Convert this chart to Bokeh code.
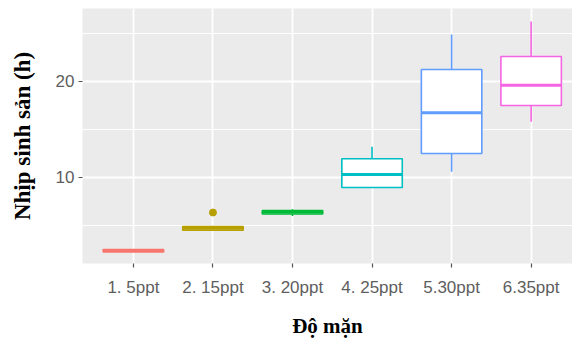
from bokeh.plotting import figure
from bokeh.models import Range1d, FixedTicker
from bokeh.embed import file_html
from bokeh.resources import INLINE

groups = ["1. 5ppt", "2. 15ppt", "3. 20ppt", "4. 25ppt", "5.30ppt", "6.35ppt"]
colors = ["#F8766D", "#B79F00", "#00BA38", "#00BFC4", "#619CFF", "#F564E3"]
lower = [2.25, 4.5, 6.0, 8.95, 10.6, 15.8]
q1 = [2.25, 4.5, 6.2, 8.95, 12.5, 17.5]
median = [2.4, 4.7, 6.4, 10.3, 16.75, 19.6]
q3 = [2.5, 4.9, 6.55, 11.95, 21.25, 22.6]
upper = [2.5, 4.9, 6.7, 13.2, 24.9, 26.25]
outlier_group = [2]
outlier_value = [6.35]

x = list(range(1, len(groups) + 1))
half = 0.38

p = figure(width=572, height=342, output_backend="svg", toolbar_location=None,
           x_range=Range1d(0.36, 6.52), y_range=Range1d(1.04, 27.6),
           min_border_top=8, min_border_right=0, min_border_left=82, min_border_bottom=79)
p.background_fill_color = "#EBEBEB"
p.border_fill_color = "white"
p.outline_line_color = None

# grids
p.xgrid.ticker = FixedTicker(ticks=x)
p.ygrid.ticker = FixedTicker(ticks=[10, 20], minor_ticks=[5, 15, 25])
for g in (p.xgrid, p.ygrid):
    g.grid_line_color = "white"
    g.grid_line_width = 1.8
p.ygrid.minor_grid_line_color = "white"
p.ygrid.minor_grid_line_width = 1.0

# axes
p.xaxis.ticker = FixedTicker(ticks=x)
p.xaxis.major_label_overrides = {i: g for i, g in zip(x, groups)}
p.yaxis.ticker = FixedTicker(ticks=[10, 20])
for ax in (p.xaxis, p.yaxis):
    ax.axis_line_color = None
    ax.major_tick_line_color = "#555555"
    ax.major_tick_line_width = 1.2
    ax.major_tick_in = 0
    ax.major_tick_out = 4
    ax.minor_tick_line_color = None
    ax.major_label_text_font = "Liberation Sans"
    ax.major_label_text_font_size = "17px"
    ax.major_label_text_color = "#5e5e5e"
    ax.axis_label_text_font = "Liberation Serif"
    ax.axis_label_text_font_style = "bold"
    ax.axis_label_text_color = "black"
p.xaxis.axis_label = "Độ mặn"
p.xaxis.axis_label_text_font_size = "21px"
p.xaxis.axis_label_standoff = 14
p.xaxis.major_label_standoff = 10
p.yaxis.axis_label = "Nhịp sinh sản (h)"
p.yaxis.axis_label_text_font_size = "23px"
p.yaxis.axis_label_standoff = 18
p.yaxis.major_label_standoff = 4

# whiskers
p.segment(x0=x, y0=q3, x1=x, y1=upper, line_color=colors, line_width=1.6)
p.segment(x0=x, y0=lower, x1=x, y1=q1, line_color=colors, line_width=1.6)
# boxes
p.quad(left=[v - half for v in x], right=[v + half for v in x], bottom=q1, top=q3,
       fill_color="white", line_color=colors, line_width=1.6)
# medians
p.segment(x0=[v - half for v in x], y0=median, x1=[v + half for v in x], y1=median,
          line_color=colors, line_width=3)
# outliers
p.scatter(x=outlier_group, y=outlier_value, size=7,
          color=[colors[g - 1] for g in outlier_group])

open("out.html", "w").write(file_html(p, INLINE))
